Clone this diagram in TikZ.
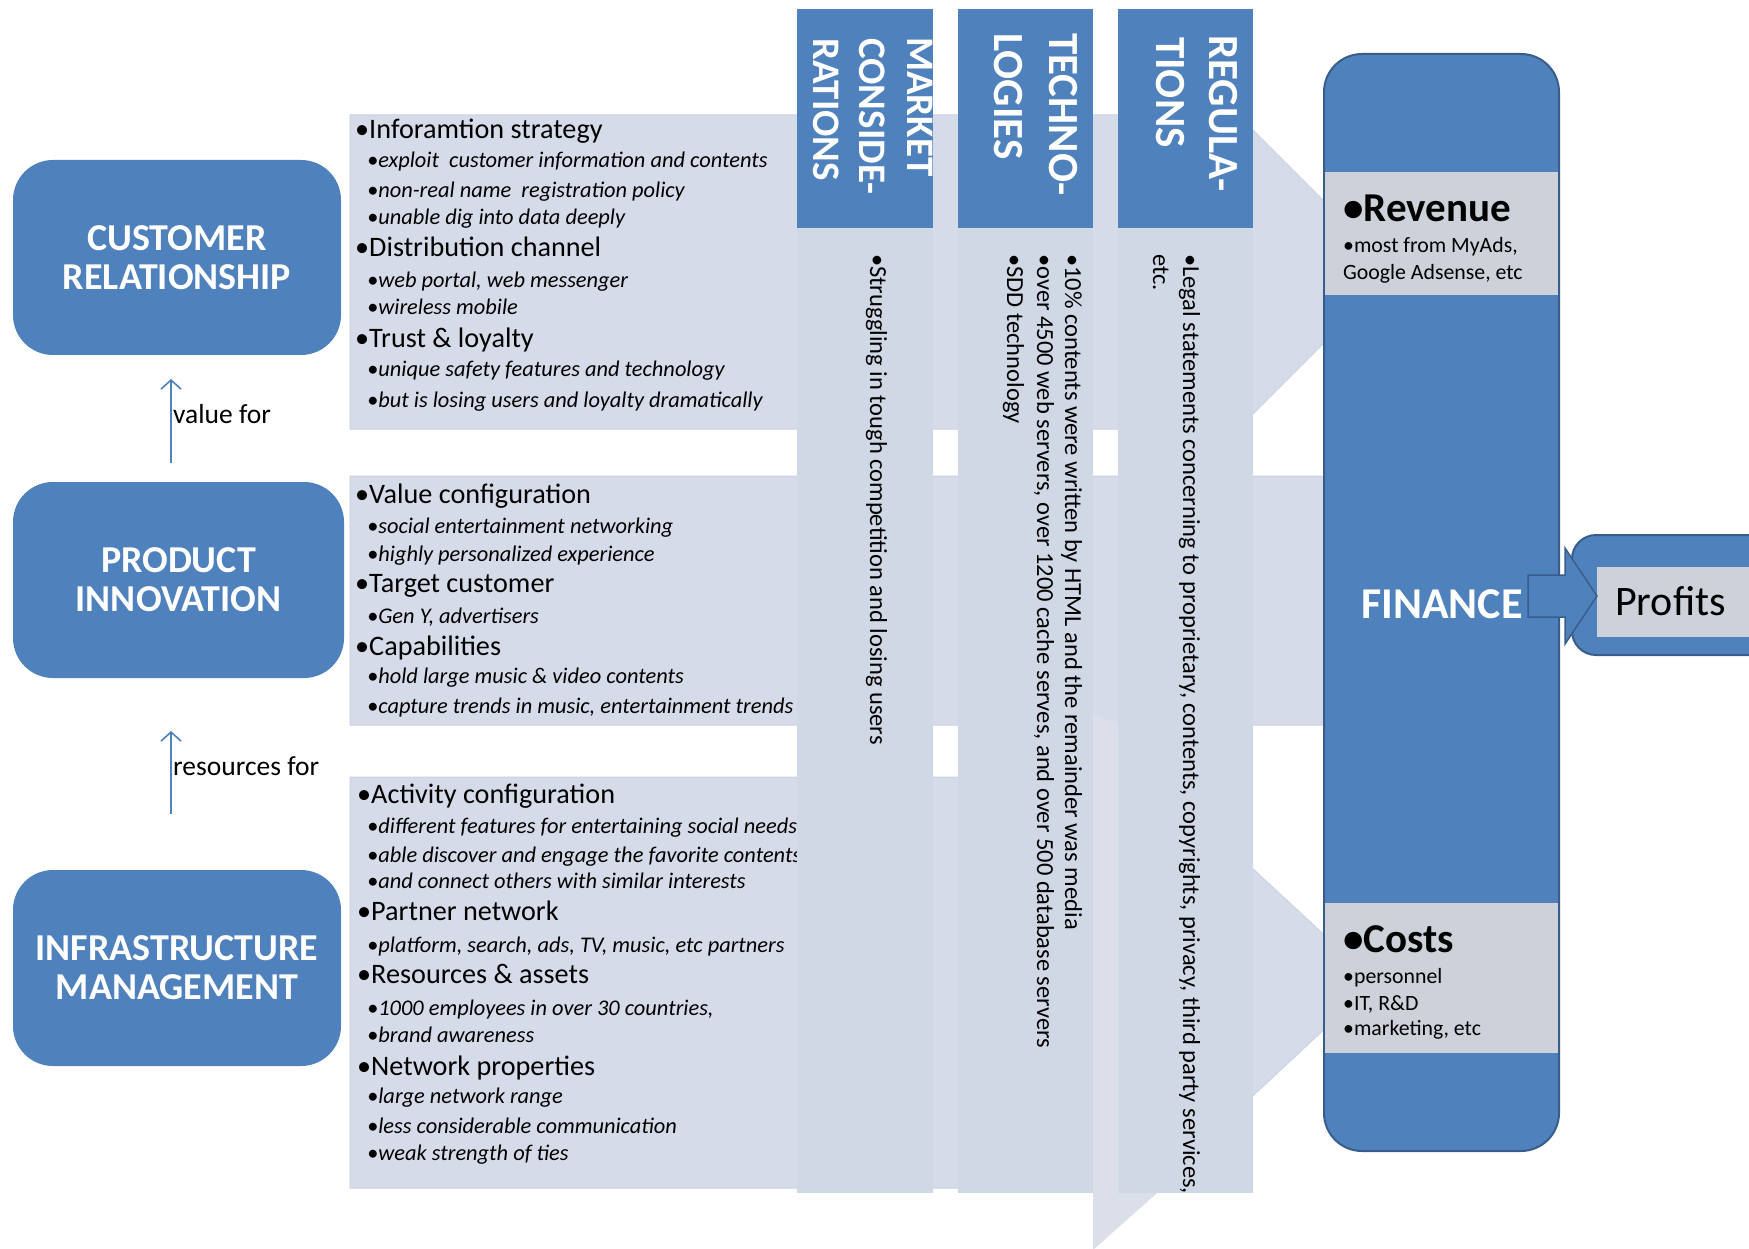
\documentclass[tikz,border=0pt]{standalone}
\usepackage{fontspec}
\setmainfont{Carlito}
\usetikzlibrary{arrows.meta}
\definecolor{accent}{HTML}{4F81BD}
\definecolor{edgec}{HTML}{385D8A}
\definecolor{panelc}{HTML}{D5DBE8}
\definecolor{paneledge}{HTML}{CCD3E2}
\definecolor{bodyc}{HTML}{D0D7E5}
\definecolor{bandc}{HTML}{CDD1D9}
\definecolor{oddc}{HTML}{DADFEA}
\newcommand{\myfs}[1]{\fontsize{#1}{#1}\selectfont}
\begin{document}
\begin{tikzpicture}[x=1pt,y=-1pt,
  ttl/.style={anchor=base west, inner sep=0, font=\myfs{28.2}},
  sub/.style={anchor=base west, inner sep=0, font=\myfs{22.4}\itshape},
  coltxt/.style={anchor=base west, inner sep=0, rotate=-90, font=\myfs{24.5}},
  hdr/.style={anchor=base west, inner sep=0, rotate=-90, text=white, font=\myfs{43}\bfseries},
  hdrsmall/.style={hdr, font=\myfs{39}\bfseries},
  bigbox/.style={fill=accent, rounded corners=40pt, inner sep=0, text=white,
     align=center, font=\fontsize{38}{39}\selectfont\bfseries},
  panel/.style={fill=panelc, draw=paneledge, line width=1pt},
  colhead/.style={fill=accent},
  colbody/.style={fill=bodyc},
  band/.style={fill=bandc},
  lbl/.style={anchor=base west, inner sep=0, font=\myfs{27.5}},
  conn/.style={draw=accent, line width=1.6pt, -{Straight Barb[length=9pt,width=20pt]}},
  smalltxt/.style={anchor=base west, inner sep=0, font=\myfs{21.8}},
  bigtxt/.style={anchor=base west, inner sep=0, font=\myfs{41}\bfseries}
]
\useasboundingbox (0,0) rectangle (1749,1249);

% ---------- chevron panels ----------
\path[panel] (350,115) -- (1238,115) -- (1395,272) -- (1238,429) -- (350,429) -- cycle;
\path[panel] (350,476) -- (1330,476) -- (1455,600) -- (1330,725) -- (350,725) -- cycle;
\path[panel] (350,777) -- (1154,777) -- (1375,982) -- (1154,1188) -- (350,1188) -- cycle;
\fill[oddc] (1093,714) -- (1118,724) -- (1118,1193) -- (1157,1193) -- (1093,1250) -- cycle;

% ---------- panel texts ----------
\node[ttl] (p1a) at (355,139) {•Inforamtion strategy};
\node[sub] (p1b) at (367,168) {•exploit~ customer information and contents};
\node[sub] (p1c) at (367,198) {•non-real name~ registration policy};
\node[sub] (p1d) at (367,225) {•unable dig into data deeply};
\node[ttl] (p1e) at (355,257) {•Distribution channel};
\node[sub] (p1f) at (367,288) {•web portal, web messenger};
\node[sub] (p1g) at (367,315) {•wireless mobile};
\node[ttl] (p1h) at (355,348) {•Trust \& loyalty};
\node[sub] (p1i) at (367,377) {•unique safety features and technology};
\node[sub] (p1j) at (367,407) {•but is losing users and loyalty dramatically};

\node[ttl] (p2a) at (355,503) {•Value configuration};
\node[sub] (p2b) at (367,533) {•social entertainment networking};
\node[sub] (p2c) at (367,561) {•highly personalized experience};
\node[ttl] (p2d) at (355,592) {•Target customer};
\node[sub] (p2e) at (367,623) {•Gen Y, advertisers};
\node[ttl] (p2f) at (355,655) {•Capabilities};
\node[sub] (p2g) at (367,683) {•hold large music \& video contents};
\node[sub] (p2h) at (367,713) {•capture trends in music, entertainment trends};

\node[ttl] (p3a) at (357,803) {•Activity configuration};
\node[sub] (p3b) at (367,833) {•different features for entertaining social needs};
\node[sub] (p3c) at (367,862) {•able discover and engage the favorite contents};
\node[sub] (p3d) at (367,888) {•and connect others with similar interests};
\node[ttl] (p3e) at (357,920) {•Partner network};
\node[sub] (p3f) at (367,952) {•platform, search, ads, TV, music, etc partners};
\node[ttl] (p3g) at (357,983) {•Resources \& assets};
\node[sub] (p3h) at (367,1015) {•1000 employees in over 30 countries,};
\node[sub] (p3i) at (367,1042) {•brand awareness};
\node[ttl] (p3j) at (357,1075) {•Network properties};
\node[sub] (p3k) at (367,1103) {•large network range};
\node[sub] (p3l) at (367,1133) {•less considerable communication};
\node[sub] (p3m) at (367,1160) {•weak strength of ties};

% ---------- columns ----------
\path[colbody] (797,229) rectangle (933,1193);
\path[colbody] (958,229) rectangle (1093,1193);
\path[colbody] (1118,229) rectangle (1253,1193);
\path[colhead] (797,9) rectangle (933,228);
\path[colhead] (958,9) rectangle (1093,228);
\path[colhead] (1118,9) rectangle (1253,228);

\begin{scope}
  \clip (797,9) rectangle (933,228);
  \node[hdrsmall] (mk1) at (907,37) {MARKET};
  \node[hdrsmall] (mk2) at (859,38) {CONSIDE-};
  \node[hdrsmall] (mk3) at (813,38) {RATIONS};
\end{scope}
\node[hdr] (te1) at (1049,33) {TECHNO-};
\node[hdr] (te2) at (994,33) {LOGIES};
\node[hdr] (re1) at (1209,35) {REGULA-};
\node[hdr] (re2) at (1156,37) {TIONS};

\node[coltxt] (mkt) at (870,254) {•Struggling in tough competition and losing users};
\node[coltxt] (tet1) at (1065,254) {•10\% contents were written by HTML and the remainder was media};
\node[coltxt] (tet2) at (1037,254) {•over 4500 web servers, over 1200 cache serves, and over 500 database servers};
\node[coltxt] (tet3) at (1007,254) {•SDD technology};
\node[coltxt] (ret1) at (1183,254) {•Legal statements concerning to proprietary, contents, copyrights, privacy, third party services,};
\node[coltxt] (ret2) at (1153,254) {etc.};

% ---------- left boxes ----------
\node[bigbox, minimum width=328pt, minimum height=195pt] (cr) at (177,257.5) {CUSTOMER\\RELATIONSHIP};
\node[bigbox, minimum width=331pt, minimum height=196pt] (pi) at (178.5,580) {PRODUCT\\INNOVATION};
\node[bigbox, minimum width=328pt, minimum height=196pt] (im) at (177,968) {INFRASTRUCTURE\\MANAGEMENT};

\coordinate (v1) at (171,463);
\coordinate (v2) at (171,379);
\coordinate (r1) at (171,814);
\coordinate (r2) at (171,731);
\draw[conn] (v1) -- (v2);
\draw[conn] (r1) -- (r2);
\node[lbl] (vl) at (173,423) {value for};
\node[lbl] (rl) at (173,775) {resources for};

% ---------- finance ----------
\node[draw=edgec, fill=accent, line width=2pt, rounded corners=38pt, inner sep=0,
      minimum width=235pt, minimum height=1097pt] (fin) at (1441.5,602.5) {};
\node[anchor=base west, inner sep=0, text=white, font=\myfs{44}\bfseries] (finl) at (1361,618) {FINANCE};
\path[band] (1325,172) rectangle (1558,295);
\path[band] (1325,903) rectangle (1558,1053);
\node[bigtxt] (rev) at (1343,222) {•Revenue};
\node[smalltxt] (rev1) at (1343,253) {•most from MyAds,};
\node[smalltxt] (rev2) at (1343,280) {Google Adsense, etc};
\node[bigtxt] (cost) at (1343,952) {•Costs};
\node[smalltxt] (cost1) at (1343,983) {•personnel};
\node[smalltxt] (cost2) at (1343,1010) {•IT, R\&D};
\node[smalltxt] (cost3) at (1343,1035) {•marketing, etc};

% ---------- profits ----------
\begin{scope}
  \clip (1500,500) rectangle (1749,700);
  \draw[fill=accent, draw=edgec, line width=2pt, rounded corners=24pt] (1572,535) rectangle (1800,655);
  \path[band] (1597,567) rectangle (1760,637);
\end{scope}
\node[anchor=base west, inner sep=0, font=\myfs{42}] (prof) at (1615,615) {Profits};
\draw[fill=accent, draw=edgec, line width=1.5pt]
  (1528,575) -- (1565,575) -- (1565,548) -- (1597,596) -- (1565,644) -- (1565,617) -- (1528,617) -- cycle;
\end{tikzpicture}
\end{document}
